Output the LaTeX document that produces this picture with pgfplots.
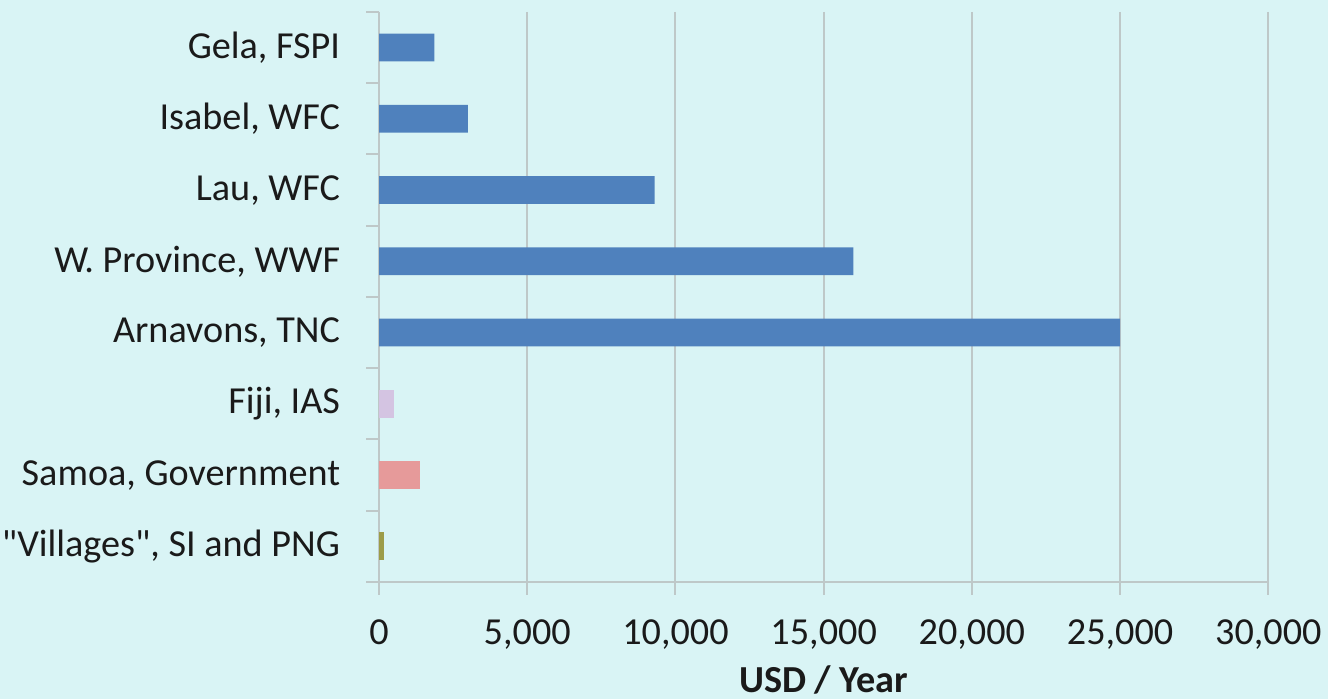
\documentclass[border=0pt]{standalone}
\usepackage{fontspec}
\setmainfont{Carlito}
\newfontfamily\plainq{Carlito}
\usepackage{pgfplots}
\pgfplotsset{compat=1.18}
\usetikzlibrary{backgrounds}
\definecolor{bgc}{HTML}{D9F4F5}
\definecolor{barblue}{HTML}{4F81BD}
\definecolor{barlilac}{HTML}{D4C4E2}
\definecolor{barrose}{HTML}{E69A9A}
\definecolor{barolive}{HTML}{9C9C48}
\definecolor{gridc}{HTML}{BEC8C8}
\definecolor{txt}{HTML}{1A1A1A}
\begin{document}
\begin{tikzpicture}
% room round the axis, sized to the reference
\path (-188pt,-59pt) rectangle (477pt,292.5pt);
\begin{axis}[
  at={(0,0)}, anchor=south west,
  scale only axis,
  width=447pt, height=286.5pt,
  xbar, bar width=14pt, bar shift=0pt,
  axis lines*=left,
  axis line style={gridc, line width=1pt},
  xmin=0, xmax=30000,
  xtick={0,5000,...,30000},
  ymin=-0.5, ymax=7.5, y dir=reverse,
  ytick={0,...,7},
  yticklabels={{Gela, FSPI},{Isabel, WFC},{Lau, WFC},{W. Province, WWF},{Arnavons, TNC},{Fiji, IAS},{Samoa, Government},{{\plainq"Villages"}, SI and PNG}},
  minor ytick={-0.5,0.5,...,7.5},
  tick align=outside,
  major tick length=6.5pt, minor tick length=6.5pt,
  tick style={gridc, line width=1pt},
  major y tick style={draw=none},
  xmajorgrids,
  grid style={gridc, line width=1pt},
  scaled x ticks=false,
  /pgf/number format/.cd, 1000 sep={,}, assume math mode=true, /pgfplots/.cd,
  tick label style={font=\fontsize{19.2}{22}\selectfont, text=txt, inner sep=1pt},
  y tick label style={xshift=-11.9pt},
  x tick label style={yshift=-11.4pt},
  xlabel={\textbf{USD / Year}},
  xlabel style={at={(axis description cs:0.5,0)}, anchor=base, yshift=-55.5pt, inner sep=1pt, font=\fontsize{19.2}{22}\selectfont, text=txt},
]
\addplot[fill=barblue, draw=none] coordinates {(1870,0) (3000,1) (9300,2) (16000,3) (25000,4)};
\addplot[fill=barlilac, draw=none] coordinates {(490,5)};
\addplot[fill=barrose, draw=none] coordinates {(1380,6)};
\addplot[fill=barolive, draw=none] coordinates {(180,7)};
\end{axis}
\begin{scope}[on background layer]
\fill[bgc] (current bounding box.south west) rectangle (current bounding box.north east);
\end{scope}
\end{tikzpicture}
\end{document}
